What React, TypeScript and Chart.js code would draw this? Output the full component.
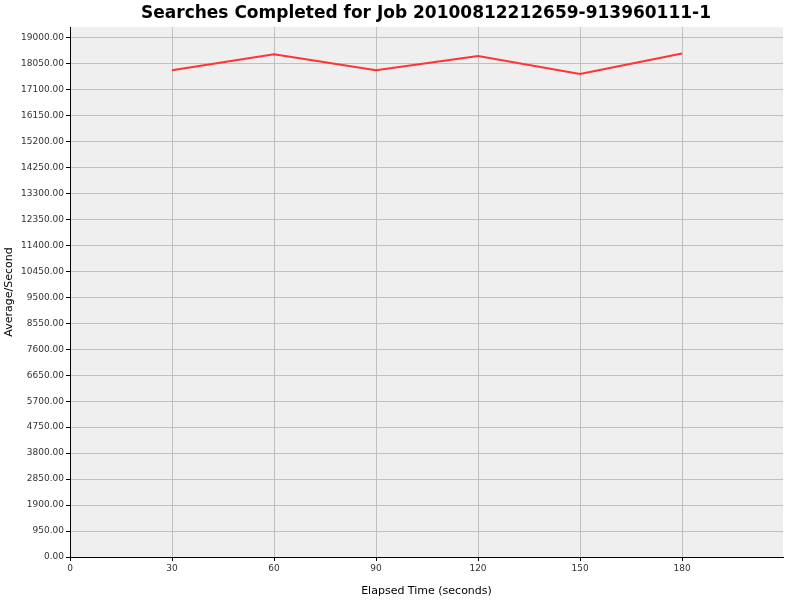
import React, { useEffect, useRef } from "react";
import { Chart, registerables } from "chart.js";

Chart.register(...registerables);

const TITLE = "Searches Completed for Job 20100812212659-913960111-1";
const X_LABEL = "Elapsed Time (seconds)";
const Y_LABEL = "Average/Second";
const elapsed = [30, 60, 90, 120, 150, 180];
const avgPerSecond = [17805, 18390, 17805, 18330, 17670, 18415];
const yTicks = [0, 950, 1900, 2850, 3800, 4750, 5700, 6650, 7600, 8550, 9500, 10450, 11400, 12350, 13300, 14250, 15200, 16150, 17100, 18050, 19000];
const xTicks = [0, 30, 60, 90, 120, 150, 180];
const Y_MAX = 19388;
const X_MAX = 209.7;

const bgPlugin = {
  id: "plotBg",
  beforeDraw(chart: any) {
    const { ctx, chartArea } = chart;
    ctx.save();
    ctx.fillStyle = "#ffffff";
    ctx.fillRect(0, 0, chart.width, chart.height);
    ctx.fillStyle = "#efefef";
    ctx.fillRect(chartArea.left, chartArea.top, chartArea.right - chartArea.left, chartArea.bottom - chartArea.top);
    ctx.restore();
  },
  afterDraw(chart: any) {
    const { ctx } = chart;
    ctx.save();
    ctx.fillStyle = "#000000";
    ctx.font = "bold 17px 'DejaVu Sans'";
    ctx.textAlign = "center";
    ctx.textBaseline = "middle";
    ctx.fillText(TITLE, 426, 14);
    ctx.restore();
  },
};

export default function App() {
  const ref = useRef<HTMLCanvasElement>(null);
  useEffect(() => {
    document.body.style.margin = "0";
    const chart = new Chart(ref.current as HTMLCanvasElement, {
      type: "line",
      data: {
        datasets: [
          {
            data: elapsed.map((x, i) => ({ x, y: avgPerSecond[i] })),
            borderColor: "#ff3333",
            borderWidth: 2,
            pointRadius: 0,
            fill: false,
            tension: 0,
          },
        ],
      },
      options: {
        animation: false,
        responsive: false,
        devicePixelRatio: 1,
        layout: { padding: { top: 27, right: 17, left: 0, bottom: 0 } },
        plugins: { legend: { display: false }, title: { display: false }, tooltip: { enabled: false } },
        scales: {
          x: {
            type: "linear",
            min: 0,
            max: X_MAX,
            afterBuildTicks: (s: any) => {
              s.ticks = xTicks.map((v) => ({ value: v }));
            },
            afterFit: (s: any) => {
              s.height = 43;
            },
            ticks: {
              autoSkip: false,
              color: "#333333",
              font: { family: "'DejaVu Sans'", size: 9 },
              padding: 2,
              maxRotation: 0,
              callback: (v: any) => String(v),
            },
            grid: { color: "#c0c0c0", lineWidth: 1, tickColor: "#000000", tickLength: 4 },
            border: { display: true, color: "#000000", width: 1 },
            title: { display: true, text: X_LABEL, color: "#000000", font: { family: "'DejaVu Sans'", size: 11 }, padding: { top: 0, bottom: 2 } },
          },
          y: {
            type: "linear",
            min: 0,
            max: Y_MAX,
            afterBuildTicks: (s: any) => {
              s.ticks = yTicks.map((v) => ({ value: v }));
            },
            afterFit: (s: any) => {
              s.width = 70;
            },
            ticks: {
              autoSkip: false,
              color: "#333333",
              font: { family: "'DejaVu Sans'", size: 9 },
              padding: 2,
              callback: (v: any) => Number(v).toFixed(2),
            },
            grid: { color: "#c0c0c0", lineWidth: 1, tickColor: "#000000", tickLength: 4 },
            border: { display: true, color: "#000000", width: 1 },
            title: { display: true, text: Y_LABEL, color: "#000000", font: { family: "'DejaVu Sans'", size: 11 }, padding: { top: 3, bottom: 0 } },
          },
        },
      },
      plugins: [bgPlugin],
    } as any);
    return () => chart.destroy();
  }, []);
  return (
    <div style={{ position: "absolute", left: 0, top: 0, width: 800, height: 600 }}>
      <canvas ref={ref} width={800} height={600} style={{ width: 800, height: 600, display: "block" }} />
    </div>
  );
}
